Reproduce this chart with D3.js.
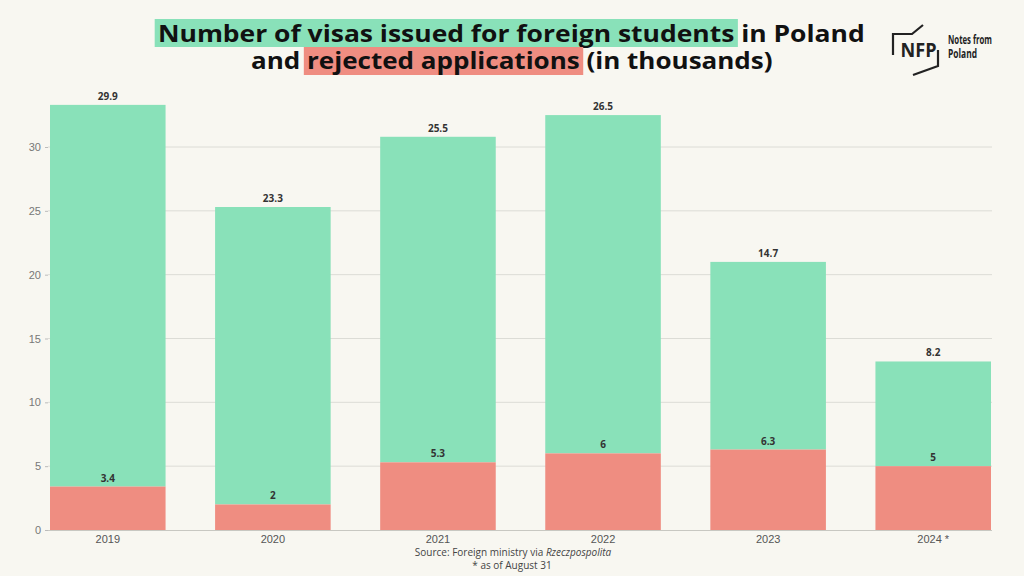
<!DOCTYPE html>
<html><head><meta charset="utf-8">
<script src="https://cdn.jsdelivr.net/npm/d3@7"></script>
<style>
body{margin:0;background:#f8f7f1;}
svg{display:block;font-family:"Open Sans",sans-serif;}
</style></head>
<body>
<svg id="c" width="1024" height="576"></svg>
<script>
const years = ['2019','2020','2021','2022','2023','2024 *'];
const issued = [29.9, 23.3, 25.5, 26.5, 14.7, 8.2];
const rejected = [3.4, 2, 5.3, 6, 6.3, 5];
const yTicks = [0,5,10,15,20,25,30];

const svg = d3.select('#c');
svg.append('rect').attr('width',1024).attr('height',576).attr('fill','#f8f7f1');

const x = d3.scaleBand().domain(years).range([50,991]).paddingInner(0.3).paddingOuter(0);
const y = d3.scaleLinear().domain([0,30]).range([530,147]);

// grid
const yAxis = d3.axisLeft(y).tickValues(yTicks).tickSize(3).tickPadding(4).tickFormat(d3.format('d'));
const gy = svg.append('g').attr('transform','translate(48,0)').call(yAxis);
gy.select('.domain').remove();
gy.selectAll('.tick line').attr('stroke','#bbb');
gy.selectAll('.tick text').attr('fill','#777').style('font-size','11px');
svg.append('g').selectAll('line').data(yTicks.filter(d=>d>0)).join('line')
  .attr('x1',48).attr('x2',992).attr('y1',d=>y(d)).attr('y2',d=>y(d))
  .attr('stroke','#dcdcd6').attr('stroke-width',1);

const data = years.map((yr,i)=>({yr, rej: rejected[i], iss: issued[i]}));

// bars
svg.append('g').selectAll('rect').data(data).join('rect')
  .attr('x',d=>x(d.yr)).attr('width',x.bandwidth())
  .attr('y',d=>y(d.rej+d.iss)).attr('height',d=>y(d.rej)-y(d.rej+d.iss))
  .attr('fill','#89e1b9');
svg.append('g').selectAll('rect').data(data).join('rect')
  .attr('x',d=>x(d.yr)).attr('width',x.bandwidth())
  .attr('y',d=>y(d.rej)).attr('height',d=>y(0)-y(d.rej))
  .attr('fill','#ef8d81');

// x axis
const xAxis = d3.axisBottom(x).tickSize(0).tickPadding(5);
const gx = svg.append('g').attr('transform','translate(0,530)').call(xAxis);
gx.select('.domain').remove();
gx.selectAll('.tick text').attr('fill','#555').style('font-size','11px');
svg.append('line').attr('x1',48).attr('x2',992).attr('y1',530.5).attr('y2',530.5).attr('stroke','#c8c8c2');

// value labels
const lab = svg.append('g').style('font-size','10px').style('font-weight','700').attr('fill','#333').attr('text-anchor','middle');
lab.selectAll('.t').data(data).join('text')
  .attr('x',d=>x(d.yr)+x.bandwidth()/2).attr('y',d=>y(d.rej+d.iss)-5).text(d=>d.iss);
lab.selectAll('.r').data(data).join('text')
  .attr('x',d=>x(d.yr)+x.bandwidth()/2).attr('y',d=>y(d.rej)-5).text(d=>d.rej);

// title
function titleLine(parts, cx, base, target, top){
  const g = svg.append('g');
  const t = g.append('text').attr('x',0).attr('y',0).style('font-size','24px').style('font-weight','700').attr('fill','#111');
  parts.forEach(p=>t.append('tspan').text(p.s));
  const w = t.node().getComputedTextLength();
  const sx = target / w;
  t.attr('x',-w/2);
  let idx=0;
  const node=t.node();
  parts.forEach(p=>{
    if(p.c){
      const st = node.getStartPositionOfChar(idx).x;
      const en = node.getEndPositionOfChar(idx+p.s.length-1).x;
      g.insert('rect','text').attr('x',st-3).attr('width',en-st+6).attr('y',top).attr('height',28).attr('fill',p.c);
    }
    idx+=p.s.length;
  });
  g.attr('transform',`translate(${cx},${base}) scale(${sx},1)`);
}
titleLine([{s:'Number of visas issued for foreign students',c:'#89e1b9'},{s:' in Poland'}],511.5,42,707,-23);
titleLine([{s:'and '},{s:'rejected applications',c:'#ef8d81'},{s:' (in thousands)'}],512,69,522,-22);

// logo
svg.append('path').attr('d','M893,55 V34 H912 L923,25').attr('fill','none').attr('stroke','#222').attr('stroke-width',2.2);
svg.append('path').attr('d','M938,50 V66 L913,75').attr('fill','none').attr('stroke','#222').attr('stroke-width',2.2);
svg.append('text').attr('x',918.5).attr('y',57).attr('text-anchor','middle').style('font-size','20px').style('font-weight','700').attr('fill','#222')
  .attr('textLength',36).attr('lengthAdjust','spacingAndGlyphs').text('NFP');
svg.append('text').attr('x',948).attr('y',44).style('font-size','11.5px').style('font-weight','700').attr('fill','#222')
  .attr('textLength',44).attr('lengthAdjust','spacingAndGlyphs').text('Notes from');
svg.append('text').attr('x',948).attr('y',58).style('font-size','11.5px').style('font-weight','700').attr('fill','#222')
  .attr('textLength',29).attr('lengthAdjust','spacingAndGlyphs').text('Poland');

// source
const src = svg.append('text').attr('x',513).attr('y',556).attr('text-anchor','middle').style('font-size','10px').attr('fill','#444');
src.append('tspan').text('Source: Foreign ministry via ');
src.append('tspan').style('font-style','italic').text('Rzeczpospolita');
svg.append('text').attr('x',512).attr('y',569).attr('text-anchor','middle').style('font-size','10px').attr('fill','#444').text('* as of August 31');
</script>
</body></html>
